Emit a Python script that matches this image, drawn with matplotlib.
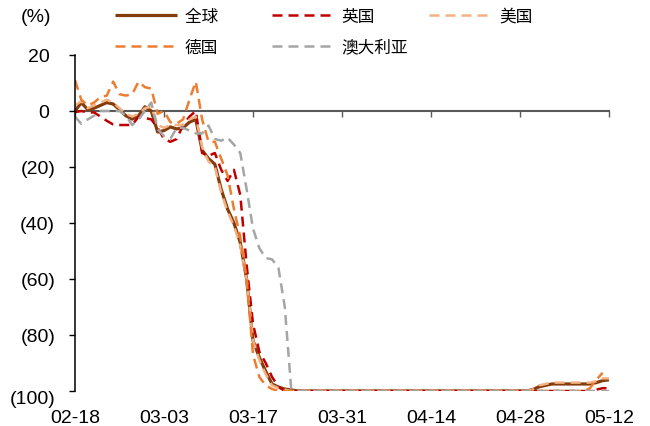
import matplotlib
matplotlib.use("Agg")
import matplotlib.dates as mdates
import matplotlib.pyplot as plt
import matplotlib.transforms as mtransforms
import numpy as np
import pandas as pd

# daily, 2020-02-18 .. 2020-05-12 (85 days), % change
START = "2020-02-18"

GLOBAL = [
    0, 3, 0.5, 1, 2, 3, 2.5, 0.5, -1.7, -2.9,
    -1.7, 1.5, 0, -7.5, -7, -5.7, -6.4, -6, -4, -3,
    -14, -17, -19, -28, -35, -40, -47, -60, -82, -88,
    -93, -97.5, -98.6, -99.3, -99.6, -100, -100, -100, -100, -100,
    -100, -100, -100, -100, -100, -100, -100, -100, -100, -100,
    -100, -100, -100, -100, -100, -100, -100, -100, -100, -100,
    -100, -100, -100, -100, -100, -100, -100, -100, -100, -100,
    -100, -100, -99.5, -98.5, -98, -97.5, -97.5, -97.5, -97.5, -97.5,
    -97.5, -97.5, -97, -96.3, -96,
]
UK = [
    -0.4, 0, -0.5, -0.5, -2, -3.5, -4.8, -5, -5, -5,
    -2, -2.5, -3, -6, -10, -11, -10, -5, -2, 0,
    -15, -16, -15, -21, -25, -21, -30, -55, -76, -86,
    -90, -95, -98.5, -100, -100, -100, -100, -100, -100, -100,
    -100, -100, -100, -100, -100, -100, -100, -100, -100, -100,
    -100, -100, -100, -100, -100, -100, -100, -100, -100, -100,
    -100, -100, -100, -100, -100, -100, -100, -100, -100, -100,
    -100, -100, -100, -100, -100, -100, -100, -100, -100, -100,
    -100, -100, -99.5, -99, -99,
]
US = [
    2, 3.5, 1, 2, 3, 4, 3, 1, -1, -2,
    -1, 1, 1.5, -5, -6, -5, -5, -5, -3, -2,
    -13, -18, -20, -29, -36, -41, -48, -60, -82, -89,
    -94, -98, -99, -99.5, -100, -100, -100, -100, -100, -100,
    -100, -100, -100, -100, -100, -100, -100, -100, -100, -100,
    -100, -100, -100, -100, -100, -100, -100, -100, -100, -100,
    -100, -100, -100, -100, -100, -100, -100, -100, -100, -100,
    -100, -100, -99.5, -98, -97.5, -97, -97, -97, -97, -97,
    -97, -97, -96.5, -95.5, -95.5,
]
GERMANY = [
    11, 4, 2, 3, 5, 5.5, 10.5, 6, 5.5, 6,
    10.5, 8.5, 8, -1, 0, -4, -4.5, -3, 4, 10.5,
    -3, -11, -11, -17, -23, -35, -45, -60, -87, -95,
    -98, -99.3, -100, -100, -100, -100, -100, -100, -100, -100,
    -100, -100, -100, -100, -100, -100, -100, -100, -100, -100,
    -100, -100, -100, -100, -100, -100, -100, -100, -100, -100,
    -100, -100, -100, -100, -100, -100, -100, -100, -100, -100,
    -100, -100, -100, -100, -100, -100, -100, -100, -100, -100,
    -100, -99, -96, -93.5, np.nan,
]
AUSTRALIA = [
    -2, -4.6, -3, -1.7, 0, 0, 0, 0, -1.7, -5,
    -3, 0, 3, -6.4, -9, -10, -6, -6, -7, -8,
    -8, -5.2, -10, -10.6, -9.5, -12, -15, -28, -42, -49,
    -52.5, -53, -56, -70, -99, -100, -100, -100, -100, -100,
    -100, -100, -100, -100, -100, -100, -100, -100, -100, -100,
    -100, -100, -100, -100, -100, -100, -100, -100, -100, -100,
    -100, -100, -100, -100, -100, -100, -100, -100, -100, -100,
    -100, -100, -100, -100, -100, -100, -100, -100, -100, -100,
    -100, -100, -100, -100, -100,
]

SERIES = [
    ("全球", GLOBAL, "#843C0C", "-", 2.3),
    ("英国", UK, "#C00000", "--", 1.8),
    ("美国", US, "#F4B183", "--", 1.8),
    ("德国", GERMANY, "#ED7D31", "--", 1.8),
    ("澳大利亚", AUSTRALIA, "#A5A5A5", "--", 1.8),
]
Y_TICKS = [-100, -80, -60, -40, -20, 0, 20]
Y_LABELS = ["(100)", "(80)", "(60)", "(40)", "(20)", "0 ", "20 "]


def main() -> None:
    plt.rcParams["font.family"] = ["Liberation Sans", "DejaVu Sans"]
    dates = pd.date_range(START, periods=len(GLOBAL), freq="D")

    fig = plt.figure(figsize=(6.5, 4.27), dpi=100)
    ax = fig.add_axes([75 / 650, 1 - 392 / 427, 534 / 650, 336 / 427])

    handles = {}
    for name, vals, color, ls, lw in SERIES:
        (h,) = ax.plot(dates, vals, color=color, linestyle=ls, linewidth=lw,
                       label=name, solid_capstyle="butt")
        if ls == "--":
            h.set_dashes((4, 2.4))
        handles[name] = h

    ax.set_ylim(-100, 20)
    ax.set_xlim(dates[0], dates[-1])
    ax.set_yticks(Y_TICKS)
    ax.set_yticklabels(Y_LABELS)
    ax.set_xticks(pd.date_range(START, "2020-05-12", freq="14D"))
    ax.xaxis.set_major_formatter(mdates.DateFormatter("%m-%d"))

    for s in ["right", "bottom"]:
        ax.spines[s].set_visible(False)
    ax.spines["left"].set_color("black")
    ax.spines["left"].set_linewidth(1.1)
    ax.spines["top"].set_position(("data", 0))
    ax.spines["top"].set_color("#595959")
    ax.spines["top"].set_linewidth(1.5)
    ax.spines["top"].set_zorder(1)

    ax.tick_params(axis="y", direction="out", length=4.3, width=1, pad=10,
                   labelsize=14)
    ax.tick_params(axis="x", bottom=False, top=True, labelbottom=True,
                   labeltop=False, direction="in", length=4, width=1,
                   color="#595959", pad=13, labelsize=14)

    # bottom y label sits a little lower, as in the original
    lbl = ax.get_yticklabels()[0]
    lbl.set_transform(lbl.get_transform() + mtransforms.ScaledTranslation(
        0, -4 / 72, fig.dpi_scale_trans))

    fig.text(36 / 650, 1 - 18 / 427, "(%)", ha="center", va="center", fontsize=14)

    order = ["全球", "德国", "英国", "澳大利亚", "美国"]
    labels = ["全球\u3000\u3000", "德国", "英国", "澳大利亚", "美国"]
    fig.legend([handles[k] for k in order], labels, ncol=3, frameon=False,
               loc="upper left", bbox_to_anchor=(115 / 650, 1 - 9 / 427),
               borderaxespad=0, borderpad=0, handlelength=3.7,
               handletextpad=0.48, columnspacing=1.26, labelspacing=0.8,
               prop={"family": ["Noto Sans CJK SC", "DejaVu Sans"], "size": 12})

    fig.savefig("out.png", dpi=100)
    plt.close(fig)


if __name__ == "__main__":
    main()
